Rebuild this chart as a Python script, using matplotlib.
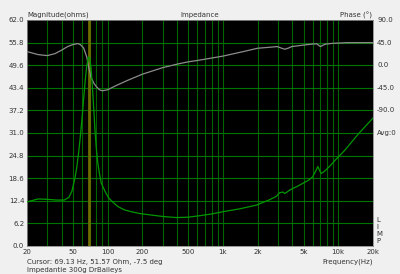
import matplotlib
matplotlib.use("Agg")
import matplotlib.pyplot as plt

# magnitude trace (ohms)
mag_f = [20, 25, 30, 36, 42, 46, 49, 52, 54, 56, 58, 60, 62, 64, 66, 68, 70, 72, 74,
         76, 78, 80, 82, 85, 88, 95, 102, 112, 123, 140, 161, 190, 238, 300, 393,
         500, 626, 800, 1000, 1400, 1940, 2500, 2900, 3100, 3300, 3440, 3820, 4500,
         5560, 6000, 6330, 6660, 6850, 7120, 7600, 8500, 9440, 11420, 14900, 20000]
mag_z = [12.1, 12.9, 12.8, 12.6, 12.6, 13.3, 15.0, 18.5, 21.5, 25.5, 30.0, 35.0,
         40.5, 45.5, 49.5, 51.8, 51.6, 48.5, 43.0, 37.0, 31.0, 26.5, 23.0, 19.8,
         17.3, 15.0, 13.2, 11.9, 10.8, 9.9, 9.4, 8.9, 8.5, 8.1, 7.8, 7.9, 8.3, 8.8,
         9.4, 10.2, 11.2, 12.6, 13.6, 14.6, 14.8, 14.4, 15.4, 16.5, 18.1, 19.0, 20.4,
         21.8, 20.8, 19.9, 20.5, 22.0, 23.6, 26.3, 30.7, 35.1]

# phase trace (degrees)
ph_f = [20, 25, 30, 35, 40, 45, 50, 55, 58, 62, 66, 69, 72, 76, 80, 85, 90, 100,
        120, 150, 200, 300, 400, 500, 626, 1000, 1500, 1990, 2500, 2960, 3200, 3440,
        3700, 3950, 5000, 5960, 6500, 7000, 7400, 7800, 9000, 11990, 20000]
ph_d = [27, 21, 19, 23, 30, 37, 41, 43, 41, 34, 16, -7.5, -25, -36, -43, -49, -51,
        -49, -40, -30, -18, -5, 2, 6.6, 10, 18, 27, 33.6, 35.5, 37, 34, 31.7, 34,
        37, 40, 42, 42.5, 37, 40, 42, 43.5, 44.8, 44.8]

mag_ticks = [0.0, 6.2, 12.4, 18.6, 24.8, 31.0, 37.2, 43.4, 49.6, 55.8, 62.0]
ph_ticks = [90.0, 45.0, 0.0, -45.0, -90.0]
f_ticks = [20, 50, 100, 200, 500, 1000, 2000, 5000, 10000, 20000]
f_labels = ["20", "50", "100", "200", "500", "1k", "2k", "5k", "10k", "20k"]
cursor_f = 69.13

fig = plt.figure(figsize=(4, 2.74), dpi=100, facecolor="#f0f0f0")
ax = fig.add_axes([0.0675, 0.1022, 0.865, 0.825])
ax.set_facecolor("black")
ax.set_xscale("log")
ax.set_xlim(20, 20000)
ax.set_ylim(0, 62)

gc = "#006400"
for dec in [10, 100, 1000]:
    for k in range(1, 10):
        f = dec * k
        if 20 < f <= 10000:
            ax.axvline(f, color=gc, lw=0.8, zorder=1)
ax.axvline(10000, color=gc, lw=0.8, zorder=1)
for v in mag_ticks[1:-1]:
    ax.axhline(v, color="#007400", lw=0.8, zorder=1)

ax.axvline(cursor_f, color="#6e6c00", lw=2.0, zorder=2)

# phase mapped onto magnitude axis: 45 deg per 6.2 ohm, 0 deg at 49.6
ph_on_mag = [49.6 + d / 45.0 * 6.2 for d in ph_d]
ax.plot(ph_f, ph_on_mag, color="#8c8c8c", lw=0.9, zorder=3)
ax.plot(mag_f, mag_z, color="#009600", lw=0.9, zorder=4)

ax.set_yticks(mag_ticks)
ax.set_yticklabels(["%.1f" % v for v in mag_ticks])
ax.set_xticks(f_ticks)
ax.set_xticklabels(f_labels)
ax.minorticks_off()
ax.tick_params(length=0, labelsize=5, colors="#333333", pad=2)
for s in ax.spines.values():
    s.set_color("#888888")
    s.set_linewidth(0.6)

txt = dict(fontsize=5, color="#333333")
fig.text(27 / 400, 1 - 15 / 274, "Magnitude(ohms)", ha="left", va="center", **txt)
fig.text(200 / 400, 1 - 15 / 274, "Impedance", ha="center", va="center", **txt)
fig.text(372 / 400, 1 - 15 / 274, "Phase (°)", ha="right", va="center", **txt)
for d in ph_ticks:
    y = 49.6 + d / 45.0 * 6.2
    ax.text(1.012, y / 62, "%.1f" % d, transform=ax.transAxes, ha="left", va="center", **txt)
ax.text(1.012, 31.0 / 62, "Avg:0", transform=ax.transAxes, ha="left", va="center", **txt)
for i, ch in enumerate("LIMP"):
    fig.text(376 / 400, 1 - (220 + i * 7) / 274, ch, ha="left", va="center", **txt)
fig.text(373 / 400, 1 - 262 / 274, "Frequency(Hz)", ha="right", va="center", **txt)
fig.text(27 / 400, 1 - 262 / 274, "Cursor: 69.13 Hz, 51.57 Ohm, -7.5 deg", ha="left", va="center", **txt)
fig.text(27 / 400, 1 - 270 / 274, "Impedantie 300g DrBaileys", ha="left", va="center", **txt)

fig.savefig("out.png", dpi=100, facecolor=fig.get_facecolor())
